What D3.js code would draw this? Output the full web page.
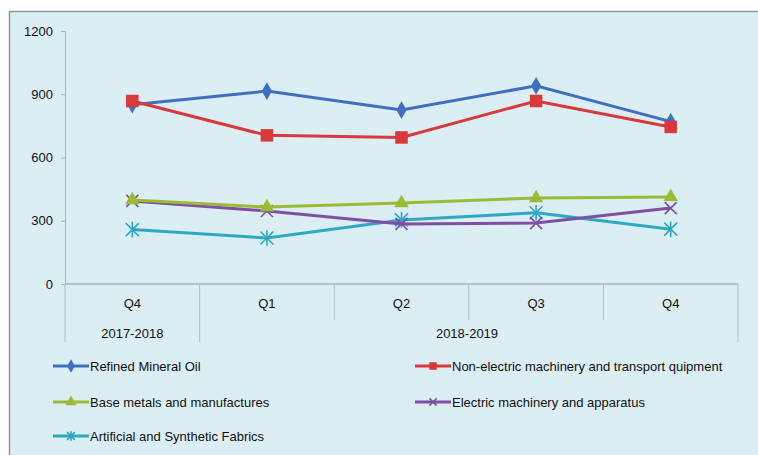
<!DOCTYPE html>
<html lang="en">
<head>
<meta charset="utf-8">
<title>Exports by quarter</title>
<script src="https://cdn.jsdelivr.net/npm/d3@7"></script>
<style>
  body { margin: 0; background: #fff; }
  text { font-family: "Liberation Sans", Arial, sans-serif; fill: #111; }
  .cat { font-size: 13px; }
  .leg { font-size: 13px; }
</style>
</head>
<body>
<script>
// quarters and the fiscal year groups
var quarters = ['Q4', 'Q1', 'Q2', 'Q3', 'Q4'];
var years = [{ label: '2017-2018', from: 0, to: 1 }, { label: '2018-2019', from: 1, to: 5 }];
var yTicks = [0, 300, 600, 900, 1200];

var seriesNames = ['Refined Mineral Oil', 'Non-electric machinery and transport quipment',
  'Base metals and manufactures', 'Electric machinery and apparatus', 'Artificial and Synthetic Fabrics'];
var refinedOil   = [850, 915, 825, 940, 770];
var nonElectric  = [868, 705, 695, 868, 745];
var baseMetals   = [398, 365, 384, 408, 413];
var electricMach = [394, 346, 285, 289, 360];
var fabrics      = [258, 218, 304, 338, 260];

var colors = ['#3f6fc1', '#d9393a', '#9bbb34', '#7e4fa2', '#2fa8c4'];
var shapes = ['diamond', 'square', 'triangle', 'x', 'asterisk'];
var allValues = [refinedOil, nonElectric, baseMetals, electricMach, fabrics];

var width = 758, height = 455;
var svg = d3.select('body').append('svg')
  .attr('width', width)
  .attr('height', height);

// panel
svg.append('rect')
  .attr('x', 9.5).attr('y', 11.5)
  .attr('width', width).attr('height', height)
  .attr('fill', '#dbeef4')
  .attr('stroke', '#8c9aa3').attr('stroke-width', 1.5);

var plotLeft = 65, plotRight = 738, plotTop = 31, plotBottom = 284;

var x = d3.scaleBand().domain(d3.range(quarters.length)).range([plotLeft, plotRight]);
var y = d3.scaleLinear().domain([0, 1200]).range([plotBottom, plotTop]);

// y axis
var yAxis = svg.append('g')
  .attr('transform', 'translate(' + plotLeft + ',0)')
  .call(d3.axisLeft(y).tickValues(yTicks).tickFormat(d3.format('d')).tickSize(4).tickPadding(8));
yAxis.select('.domain').attr('stroke', '#a9b4ba');
yAxis.selectAll('.tick line').attr('stroke', '#a9b4ba');
yAxis.selectAll('.tick text').attr('fill', '#111')
  .style('font-size', '13px').style('font-family', '"Liberation Sans", Arial, sans-serif');

// x axis line
svg.append('line')
  .attr('x1', plotLeft).attr('x2', plotRight)
  .attr('y1', plotBottom).attr('y2', plotBottom)
  .attr('stroke', '#a9b4ba').attr('stroke-width', 1.5);

// quarter separators
svg.selectAll('.qsep')
  .data(d3.range(quarters.length + 1))
  .enter().append('line')
  .attr('class', 'qsep')
  .attr('x1', function(d) { return d === quarters.length ? plotRight : x(d); })
  .attr('x2', function(d) { return d === quarters.length ? plotRight : x(d); })
  .attr('y1', plotBottom).attr('y2', 320)
  .attr('stroke', '#b3bec4');

// year separators
var yearEdges = [0, 1, 5];
svg.selectAll('.ysep')
  .data(yearEdges)
  .enter().append('line')
  .attr('x1', function(d) { return d === 5 ? plotRight : x(d); })
  .attr('x2', function(d) { return d === 5 ? plotRight : x(d); })
  .attr('y1', 320).attr('y2', 342)
  .attr('stroke', '#b3bec4');

svg.selectAll('.cat')
  .data(quarters)
  .enter().append('text')
  .attr('class', 'cat')
  .attr('x', function(d, i) { return x(i) + x.bandwidth() / 2; })
  .attr('y', 308)
  .attr('text-anchor', 'middle')
  .text(function(d) { return d; });

svg.selectAll('.year')
  .data(years)
  .enter().append('text')
  .attr('class', 'cat')
  .attr('x', function(d, i) { return i === 0 ? x(0) + x.bandwidth() / 2 : 467; })
  .attr('y', 338)
  .attr('text-anchor', 'middle')
  .text(function(d) { return d.label; });

function marker(g, shape, color, size) {
  if (shape === 'diamond') {
    g.append('path').attr('d', d3.symbol(d3.symbolDiamond, size * 9)).attr('fill', color);
  } else if (shape === 'square') {
    g.append('rect').attr('x', -size / 1.6).attr('y', -size / 1.6)
      .attr('width', size * 1.25).attr('height', size * 1.25).attr('fill', color);
  } else if (shape === 'triangle') {
    g.append('path').attr('d', d3.symbol(d3.symbolTriangle, size * 9)).attr('fill', color);
  } else if (shape === 'x') {
    var s = size * 0.6;
    g.append('path').attr('d', 'M' + -s + ',' + -s + 'L' + s + ',' + s + 'M' + -s + ',' + s + 'L' + s + ',' + -s)
      .attr('stroke', color).attr('stroke-width', 1.6);
  } else {
    var a = size * 0.65;
    g.append('path').attr('d', 'M' + -a + ',' + -a + 'L' + a + ',' + a + 'M' + -a + ',' + a + 'L' + a + ',' + -a + 'M0,' + -a * 1.2 + 'L0,' + a * 1.2)
      .attr('stroke', color).attr('stroke-width', 1.6);
  }
}

var line = d3.line()
  .x(function(d, i) { return x(i) + x.bandwidth() / 2; })
  .y(function(d) { return y(d); });

// draw from back to front
[4, 3, 2, 0, 1].forEach(function(k) {
  svg.append('path')
    .datum(allValues[k])
    .attr('d', line)
    .attr('fill', 'none')
    .attr('stroke', colors[k])
    .attr('stroke-width', 3);
  allValues[k].forEach(function(v, i) {
    var g = svg.append('g')
      .attr('transform', 'translate(' + (x(i) + x.bandwidth() / 2) + ',' + y(v) + ')');
    marker(g, shapes[k], colors[k], 10);
  });
});

// legend
var legPos = [[53, 366], [415, 366], [53, 402], [415, 402], [53, 436]];
seriesNames.forEach(function(name, k) {
  var g = svg.append('g').attr('transform', 'translate(' + legPos[k][0] + ',' + legPos[k][1] + ')');
  g.append('line').attr('x1', 0).attr('x2', 36).attr('y1', 0).attr('y2', 0)
    .attr('stroke', colors[k]).attr('stroke-width', 3);
  var m = g.append('g').attr('transform', 'translate(18,0)');
  marker(m, shapes[k], colors[k], 6);
  g.append('text').attr('class', 'leg').attr('x', 37).attr('y', 4.5).text(name);
});
</script>
</body>
</html>
